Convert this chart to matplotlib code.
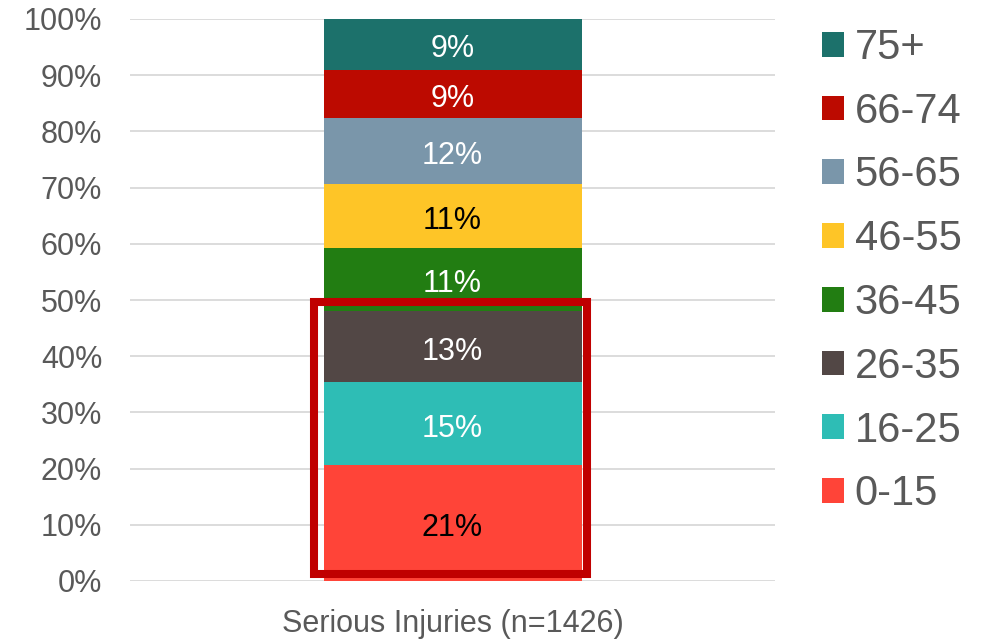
import matplotlib.pyplot as plt
import numpy as np
from matplotlib.patches import Rectangle

plt.rcParams['font.family'] = ['Liberation Sans', 'DejaVu Sans']

# data
groups = ['0-15', '16-25', '26-35', '36-45', '46-55', '56-65', '66-74', '75+']
shares = [20.6, 14.8, 12.6, 11.3, 11.3, 11.8, 8.6, 9.0]
colors = ['#FF4438', '#2EBDB5', '#524745', '#227D12', '#FEC527', '#7A96AA', '#BC0A00', '#1C716B']
text_colors = ['black', 'white', 'white', 'white', 'black', 'white', 'white', 'white']
category = 'Serious Injuries (n=1426)'

grey = '#595959'

fig = plt.figure(figsize=(9.94, 6.39), dpi=100)
ax = fig.add_axes([130/994, 1 - 581/639, 645/994, 562/639])

bottom = 0
for g, v, c, tc in zip(groups, shares, colors, text_colors):
    ax.bar([0], [v], bottom=bottom, width=0.4, color=c, label=g, zorder=2)
    # label sits a touch below the segment centre, as in the original
    ax.annotate('%d%%' % round(v), (0, bottom + v / 2), xytext=(0, -3.5),
                textcoords='offset points', ha='center', va='center',
                color=tc, fontsize=22, zorder=4)
    bottom += v

# highlight box round the younger groups
top = np.cumsum(shares)[2] + 1.6
ax.add_patch(Rectangle((-0.2155, 1.3), 0.4248, top - 1.3, fill=False,
                       edgecolor='#C00000', linewidth=5.8, zorder=3, clip_on=False))

ax.set_xlim(-0.5, 0.5)
ax.set_ylim(0, 100)
ax.set_yticks(np.arange(0, 101, 10))
ax.set_yticklabels(['%d%%' % t for t in range(0, 101, 10)])
ax.set_xticks([0])
ax.set_xticklabels([category])
ax.tick_params(axis='y', length=0, pad=20, labelsize=22, labelcolor=grey)
ax.tick_params(axis='x', length=0, pad=20, labelsize=22, labelcolor=grey)
ax.grid(axis='y', color='#D9D9D9', linewidth=1.3, zorder=0)
ax.set_axisbelow(True)
for s in ax.spines.values():
    s.set_visible(False)

h, l = ax.get_legend_handles_labels()
leg = fig.legend(h[::-1], l[::-1], loc='upper left', bbox_to_anchor=(822/994, 1 - 28/639),
                 frameon=False, fontsize=30, labelcolor=grey, handlelength=0.53,
                 handleheight=0.53, handletextpad=0.25, labelspacing=0.57, borderpad=0,
                 borderaxespad=0)

fig.savefig('out.png', dpi=100)
